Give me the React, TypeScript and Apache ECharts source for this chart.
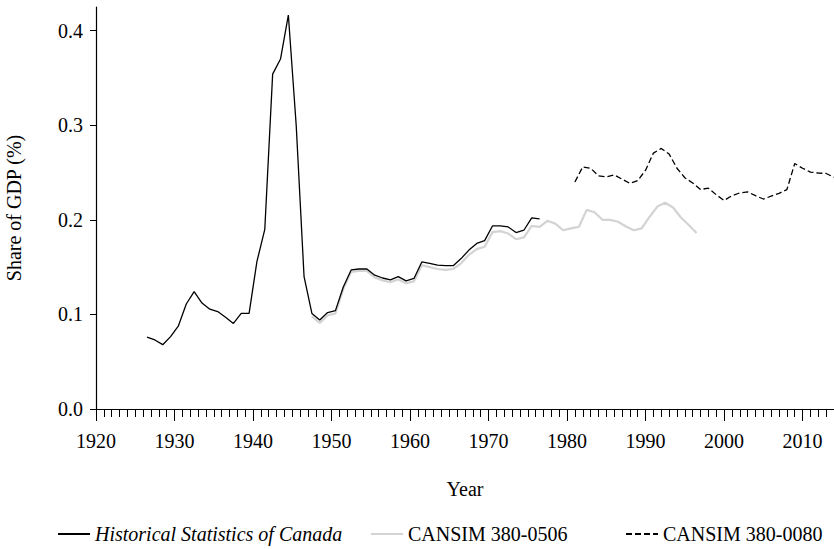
import React, { useEffect, useRef } from "react";
import * as echarts from "echarts";

// Historical Statistics of Canada (fiscal years, plotted at mid-year)
const HSC_START = 1926;
const HSC_VALUES = [
  0.076, 0.073, 0.068, 0.0765, 0.088, 0.111, 0.124, 0.112, 0.1055, 0.103,
  0.097, 0.0905, 0.101, 0.101, 0.156, 0.19, 0.354, 0.37, 0.4165, 0.3,
  0.14, 0.101, 0.094, 0.102, 0.104, 0.129, 0.147, 0.148, 0.148, 0.1415,
  0.1385, 0.1365, 0.14, 0.1355, 0.138, 0.1555, 0.154, 0.152, 0.1515, 0.1515,
  0.159, 0.168, 0.175, 0.178, 0.1935, 0.1935, 0.1925, 0.1865, 0.189, 0.202,
  0.201,
];

// CANSIM 380-0506 (fiscal years, plotted at mid-year)
const C0506_START = 1947;
const C0506_VALUES = [
  0.098, 0.091, 0.099, 0.101, 0.127, 0.145, 0.146, 0.146, 0.139, 0.136,
  0.134, 0.137, 0.133, 0.135, 0.152, 0.15, 0.148, 0.147, 0.148, 0.154,
  0.163, 0.169, 0.1715, 0.187, 0.188, 0.1855, 0.1795, 0.1815, 0.1935, 0.1925,
  0.199, 0.196, 0.189, 0.191, 0.1925, 0.2105, 0.208, 0.2, 0.2, 0.198,
  0.193, 0.189, 0.191, 0.203, 0.214, 0.218, 0.213, 0.2025, 0.1945, 0.186,
];

// CANSIM 380-0080 (calendar years)
const C0080_START = 1981;
const C0080_VALUES = [
  0.24, 0.256, 0.2545, 0.2465, 0.2455, 0.2475, 0.243, 0.2385, 0.2415, 0.2525,
  0.2705, 0.2755, 0.2695, 0.2545, 0.2445, 0.239, 0.232, 0.2335, 0.2265, 0.2205,
  0.2255, 0.2285, 0.2295, 0.2255, 0.222, 0.225, 0.228, 0.232, 0.2595, 0.2545,
  0.2505, 0.2495, 0.249, 0.245,
];

const FISCAL_MID = 0.5;

const X_LABELS = [1920, 1930, 1940, 1950, 1960, 1970, 1980, 1990, 2000, 2010];
const Y_LABELS = [0, 0.1, 0.2, 0.3, 0.4];

const NAME_HSC = "Historical Statistics of Canada";
const NAME_0506 = "CANSIM 380-0506";
const NAME_0080 = "CANSIM 380-0080";

const FONT = "Liberation Serif";

const toPoints = (start: number, vals: number[], off: number) =>
  vals.map((v, i) => [start + i + off, v]);

export default function App() {
  const ref = useRef<HTMLDivElement>(null);

  useEffect(() => {
    if (!ref.current) return;
    const chart = echarts.init(ref.current, undefined, { renderer: "svg" });
    const txt = { fontFamily: FONT, fontSize: 20, color: "#000" };
    const legendBase = (name: string, left: number, italic: boolean) => ({
      data: [name],
      left,
      top: 524,
      padding: 0,
      itemWidth: 32,
      itemHeight: 14,
      itemGap: 0,
      itemStyle: { opacity: 0 },
      textStyle: {
        ...txt,
        fontStyle: italic ? "italic" : "normal",
      },
    });
    chart.setOption({
      animation: false,
      backgroundColor: "#fff",
      textStyle: { fontFamily: FONT },
      grid: {
        left: 96,
        right: 0,
        top: 7,
        bottom: 140,
        containLabel: false,
        outerBoundsMode: "none",
      },
      xAxis: [
        {
          type: "value",
          min: 1920,
          max: 2014,
          interval: 1,
          name: "Year",
          nameLocation: "middle",
          nameGap: 70,
          nameTextStyle: txt,
          axisLine: { show: true, lineStyle: { color: "#000", width: 1.2 } },
          axisTick: { show: true, length: 8, lineStyle: { color: "#000", width: 1 } },
          axisLabel: {
            ...txt,
            margin: 22,
            customValues: X_LABELS,
            formatter: (v: number) => String(v),
          },
          splitLine: { show: false },
        },
        {
          type: "value",
          min: 1920,
          max: 2014,
          position: "bottom",
          axisLine: { show: false },
          axisTick: {
            show: true,
            length: 12,
            customValues: X_LABELS,
            lineStyle: { color: "#000", width: 1 },
          },
          axisLabel: { show: false },
          splitLine: { show: false },
        },
      ],
      yAxis: {
        type: "value",
        min: 0,
        max: 0.425,
        name: "Share of GDP (%)",
        nameLocation: "middle",
        nameGap: 72,
        nameTextStyle: txt,
        axisLine: { show: true, lineStyle: { color: "#000", width: 1.2 } },
        axisTick: {
          show: true,
          length: 6,
          customValues: Y_LABELS,
          lineStyle: { color: "#000", width: 1 },
        },
        axisLabel: {
          ...txt,
          margin: 13,
          customValues: Y_LABELS,
          formatter: (v: number) => v.toFixed(1),
        },
        splitLine: { show: false },
      },
      legend: [
        legendBase(NAME_HSC, 57, true),
        legendBase(NAME_0506, 370, false),
        legendBase(NAME_0080, 625, false),
      ],
      series: [
        {
          name: NAME_0506,
          type: "line",
          data: toPoints(C0506_START, C0506_VALUES, FISCAL_MID),
          symbol: "none",
          lineStyle: { color: "#d3d3d3", width: 2.2 },
          itemStyle: { color: "#d3d3d3" },
          z: 2,
        },
        {
          name: NAME_HSC,
          type: "line",
          data: toPoints(HSC_START, HSC_VALUES, FISCAL_MID),
          symbol: "none",
          lineStyle: { color: "#000", width: 1.3 },
          itemStyle: { color: "#000" },
          z: 3,
        },
        {
          name: NAME_0080,
          type: "line",
          data: toPoints(C0080_START, C0080_VALUES, 0),
          symbol: "none",
          lineStyle: { color: "#000", width: 1.3, type: [6, 3] },
          itemStyle: { color: "#000" },
          z: 3,
        },
      ],
    });
    return () => chart.dispose();
  }, []);

  return (
    <div
      ref={ref}
      style={{ position: "absolute", left: 0, top: 0, width: 834, height: 549, background: "#fff" }}
    />
  );
}
